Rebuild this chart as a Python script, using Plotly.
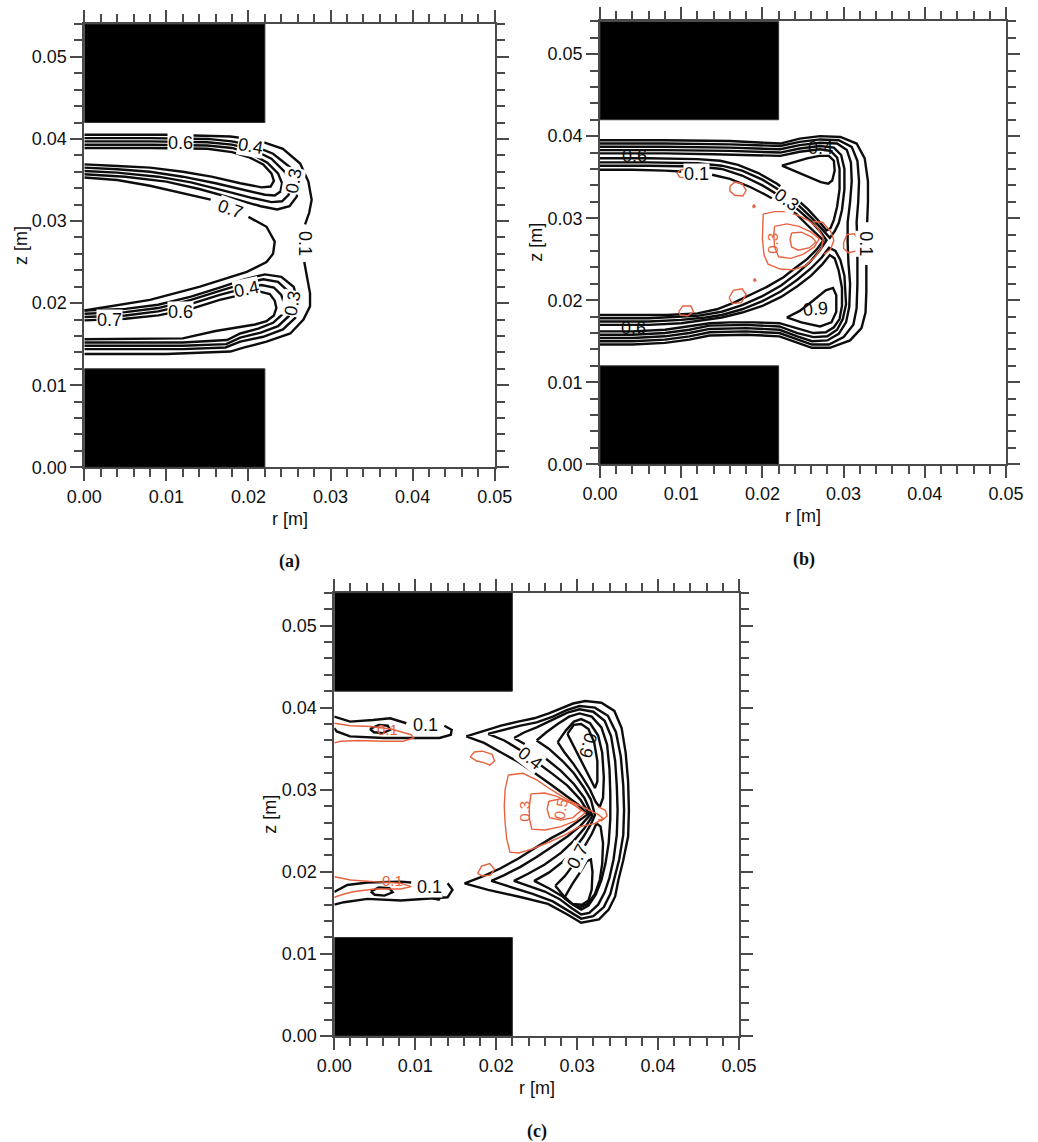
import plotly.graph_objects as go

# ---------------- data (r, z in millimetres; None = gap for an inline label) -------------
R_RANGE = [0.0, 0.05]
Z_RANGE = [0.0, 0.054]
BLOCK_R = [0.0, 0.022]
UPPER_BLOCK_Z = [0.042, 0.054]
LOWER_BLOCK_Z = [0.0, 0.012]

# ---- panel (a)
A_OUTER = [(0, 40.5), (10, 40.5), (17.8, 40.3), (20, 40.0), (21.8, 39.6), (24.2, 38.8), (26.3, 37.0), (27.3, 34.8),
           (27.7, 32.6), (27.4, 31.0), (26.9, 29.6), None, (26.8, 25.0), (27.2, 23.0), (27.5, 21.2), (27.5, 19.6),
           (26.7, 18.0), (25.1, 16.3), (22.2, 15.3), (19.5, 14.6), (17.8, 14.1), (10, 13.8), (0, 13.8)]
A_INNER = [(0, 35.3), (4, 35.0), (8, 34.3), (12, 33.4), (15.4, 32.6), None, (20, 30.5), (22.2, 29.3), (23.2, 27.5),
           (23, 26), (22.2, 25.0), (19.8, 23.8), (14.1, 22.0), (8, 20.4), (1.9, 19.4), (0, 19.1)]
A_U1 = [(0, 40.1), (8, 40.1), (15, 40.0), (18, 39.7), (20.5, 39.2), (23, 38.2), (25, 36.6), (26, 34.8), (25.9, 33.0),
        (25, 31.8), (23.5, 31.4), (21.5, 31.8), (18, 32.8), (14, 33.9), (10, 34.8), (5, 35.4), (0, 35.7)]
A_U2 = [(0, 39.7), (8, 39.7), (15, 39.6), (18, 39.3), (20.5, 38.7), (22.8, 37.6), (24.4, 36.0), (25.1, 34.6),
        (24.9, 33.2), (24.1, 32.4), (22.8, 32.3), (20.5, 32.8), (17, 33.7), (13, 34.7), (9, 35.4), (4, 35.9), (0, 36.1)]
A_U3 = [(0, 39.3), (8, 39.3), (15, 39.2), (18, 38.9), (20.3, 38.2), (22.3, 37.1), (23.6, 35.8), (24.1, 34.6),
        (23.9, 33.6), (23.2, 33.1), (22, 33.2), (19.5, 33.8), (16, 34.6), (12, 35.4), (8, 36.0), (4, 36.3), (0, 36.5)]
A_U4 = [(0, 38.9), (8, 38.9), (15, 38.8), (18, 38.4), (20, 37.8), (21.8, 36.9), (22.8, 35.8), (23.1, 34.9),
        (22.7, 34.2), (21.6, 34.1), (19, 34.6), (15.5, 35.4), (12, 36.0), (8, 36.5), (4, 36.7), (0, 36.9)]
A_L1 = [(0, 19.1), (5, 19.3), (9, 19.8), (13, 20.8), (16.5, 21.9), (19.5, 22.9), (22, 23.5), (24, 23.2), (25.5, 22.0),
        (26.1, 20.0), (25.7, 18.2), (24.2, 16.8), (21.8, 15.9), (19, 15.3), (17.2, 14.6), (12, 14.4), (5, 14.4), (0, 14.4)]
A_L2 = [(0, 18.7), (5, 18.9), (9, 19.4), (13, 20.4), (16.5, 21.5), (19.5, 22.4), (21.8, 22.9), (23.6, 22.6),
        (24.8, 21.5), (25.3, 19.9), (24.9, 18.4), (23.6, 17.2), (21.5, 16.4), (19, 15.8), (17.3, 15.0), (12, 14.8),
        (5, 14.8), (0, 14.8)]
A_L3 = [(0, 18.3), (5, 18.5), (9, 19.0), (13, 19.9), (16.5, 21.0), (19.5, 21.8), (21.6, 22.2), (23.1, 21.9),
        (24.0, 21.0), (24.4, 19.8), (24.1, 18.6), (23.0, 17.6), (21.2, 16.9), (19, 16.3), (17.4, 15.5), (12, 15.2),
        (5, 15.2), (0, 15.2)]
A_L4 = [(0, 17.9), (5, 18.1), (9, 18.5), (13, 19.3), (16.5, 20.4), (19.5, 21.1), (21.4, 21.4), (22.6, 21.1),
        (23.2, 20.3), (23.4, 19.4), (23.1, 18.5), (22.2, 17.8), (20.8, 17.4), (18.5, 17.0), (16, 16.6), (12, 15.7),
        (5, 15.6), (0, 15.6)]
A_BLACK = [A_OUTER, A_INNER, A_U1, A_U2, A_U3, A_U4, A_L1, A_L2, A_L3, A_L4]
A_RED = []
A_LABELS = [("0.6", 11.7, 39.5, 0, "k", True), ("0.4", 20.2, 39.1, 10, "k", True),
            ("0.3", 25.5, 34.9, -80, "k", True), ("0.1", 26.9, 27.3, 90, "k", True),
            ("0.7", 17.8, 31.5, 20, "k", True), ("0.4", 19.8, 21.7, -12, "k", True),
            ("0.6", 11.7, 18.9, 0, "k", True), ("0.7", 3.1, 17.9, 0, "k", True),
            ("0.3", 25.4, 20.0, -80, "k", True)]

# ---- panel (b)
B_E1 = [(0, 39.5), (8, 39.5), (16, 39.4), (22.2, 39.1), (24.6, 39.7), (27.1, 40.0), (29.6, 39.9), (31.6, 39.1),
        (32.6, 37.3), (33.0, 34.5), (33.0, 32.0), (32.9, 29.5), None, (32.8, 24.3), (32.8, 21.0), (32.7, 18.5),
        (32.2, 16.6), (30.8, 15.1), (28.3, 14.2), (26.1, 14.2), (24.3, 14.8), (22.1, 15.6), (18, 15.8), (13.5, 15.7),
        (11, 15.2), (8, 14.8), (4, 14.6), (0, 14.6)]
B_E2 = [(0, 39.1), (8, 39.1), (16, 39.0), (22.2, 38.8), (24.6, 39.3), (27.1, 39.6), (29.4, 39.5), (31.0, 38.7),
        (31.7, 37.0), (31.9, 34.5), (31.8, 32.0), (31.6, 29.5), (31.7, 27.0), (31.7, 24.5), (31.7, 22.0), (31.6, 19.0),
        (31.2, 17.0), (30.0, 15.5), (28.2, 14.6), (26.1, 14.6), (24.3, 15.2), (22.1, 16.0), (18, 16.2), (13.5, 16.1),
        (11, 15.6), (8, 15.2), (4, 15.0), (0, 15.0)]
B_E3 = [(0, 38.7), (8, 38.7), (16, 38.6), (22.2, 38.4), (24.6, 38.9), (27.1, 39.2), (29.2, 39.1), (30.4, 38.3),
        (30.9, 36.8), (31.0, 34.5), (30.8, 32.0), (30.5, 29.5), (30.5, 27.0), (30.6, 24.5), (30.8, 22.0), (30.7, 19.2),
        (30.3, 17.3), (29.4, 15.9), (28.0, 15.1), (26.1, 15.0), (24.3, 15.6), (22.1, 16.4), (18, 16.6), (13.5, 16.5),
        (11, 16.0), (8, 15.6), (4, 15.4), (0, 15.4)]
B_A1 = [(0, 38.3), (8, 38.3), (16, 38.2), (22.2, 38.0), (24.6, 38.5), (27.1, 38.8), (28.8, 38.6), (29.7, 37.7),
        (30.1, 36.0), (30.1, 33.5), (29.8, 31.0), (29.4, 29.4), (28.9, 28.4), (28.3, 27.6), (27.4, 28.6), (26.1, 30.0),
        (24.3, 31.7), (22.3, 33.3), (20, 34.7), (17.5, 35.8), (15, 36.4), (12, 36.7), (6, 36.8), (0, 36.8)]
B_A2 = [(0, 37.9), (8, 37.9), (14, 37.8), (18, 37.7), (22.2, 37.6), (24.6, 38.1), (27.1, 38.4), (28.4, 38.2),
        (29.2, 37.4), (29.5, 36.0), (29.5, 33.5), (29.2, 31.4), (28.8, 29.8), (28.4, 28.8), (27.9, 28.5), (27.0, 29.6),
        (25.6, 31.1), (23.8, 32.7), (21.8, 34.2), (19.5, 35.5), (17, 36.5), (14.8, 37.0), (12, 37.2), (6, 37.3),
        (0, 37.3)]
B_T1 = [(22.4, 36.4), (24, 36.9), (25.5, 37.3), (27, 37.6), (28.2, 37.6), (28.8, 37.0), (28.9, 35.8), (28.6, 34.6),
        (28.1, 34.2), (27.2, 34.4), (25.8, 35.0), (24.2, 35.7), (22.4, 36.4)]
B_V2 = [(0, 36.4), (6, 36.4), (12, 36.3), (15, 36.0), (17.5, 35.2), (20, 34.0), (22.3, 32.6), (24.3, 31.1), (26, 29.6),
        (27.2, 28.3), (27.9, 27.3), (27.0, 26.0), (25.8, 24.6), (24.3, 23.3), (22.3, 21.8), (20, 20.5), (17.5, 19.4),
        (15, 18.6), (12, 18.1), (6, 17.8), (0, 17.8)]
B_INNER = [(0, 35.9), (4, 35.9), (8, 35.8), (10.0, 35.7), None, (13.8, 35.3), (16, 34.8), (18.5, 33.8), (20.5, 32.8),
           (22.6, 31.6), (24.2, 30.5), (25.5, 29.2), (26.7, 28.1), (27.5, 27.3), (26.7, 26.2), (25.5, 25.0), (24, 23.9),
           (22.6, 22.8), (20.5, 21.6), (18.5, 20.6), (16.5, 19.7), (14.4, 18.9), (12, 18.4), (8.2, 18.2), (4, 18.2),
           (0, 18.2)]
B_B1 = [(0, 17.4), (6, 17.4), (10, 17.6), (13, 17.9), (15, 18.2), (17.5, 18.9), (20, 19.9), (22.3, 21.1), (24.3, 22.5),
        (26, 23.9), (27.3, 25.2), (28.2, 26.4), (29.0, 26.0), (29.6, 24.9), (30.1, 23.0), (30.3, 20.5), (30.3, 19.5),
        (29.9, 17.7), (29.2, 16.4), (28.0, 15.6), (26.3, 15.5), (24.3, 16.0), (22.1, 16.8), (18, 17.0), (13.5, 16.9),
        (11, 16.4), (8, 16.0), (4, 15.8), (0, 15.8)]
B_B2 = [(0, 17.0), (6, 17.0), (10, 17.2), (13, 17.6), (15, 17.9), (17.5, 18.5), (20, 19.3), (22.3, 20.4), (24.3, 21.7),
        (26, 23.0), (27.4, 24.4), (28.3, 25.5), (28.9, 25.1), (29.4, 23.6), (29.8, 21.5), (29.8, 19.3), (29.5, 17.7),
        (28.8, 16.7), (27.8, 16.1), (26.3, 16.0), (24.5, 16.5), (22.1, 17.2), (19, 17.3), (16, 17.3), (13.5, 17.2),
        (11, 16.8), (8, 16.4), (4, 16.2), (0, 16.2)]
B_T2 = [(23, 17.9), (24.6, 18.7), (26.3, 20.0), (27.8, 21.2), (28.7, 21.5), (29.1, 20.6), (29.1, 18.6), (28.5, 17.3),
        (27.1, 16.8), (24.8, 17.3), (23, 17.9)]
B_BLACK = [B_E1, B_E2, B_E3, B_A1, B_A2, B_T1, B_V2, B_INNER, B_B1, B_B2, B_T2]
B_R1 = [(20.1, 30.5), (21.5, 30.8), (23, 30.8), (24.5, 30.3), (25.7, 29.7), (26.8, 28.8), (27.5, 27.6), (27.3, 26.4),
        (26.5, 25.3), (25.3, 24.2), (23.8, 23.7), (22.2, 23.8), (20.7, 24.4), (20.2, 25.5), (20.0, 27.5), (20.1, 30.5)]
B_R2 = [(21.5, 29.0), (23, 29.3), (24.5, 29.0), (26, 28.3), (27.0, 27.5), (26.4, 26.5), (25, 25.6), (23.5, 25.1),
        (22, 25.3), (21.5, 26.5), (21.4, 28), (21.5, 29.0)]
B_R3 = [(23.6, 28.2), (24.8, 28.3), (26.1, 27.7), (26.6, 27.1), (25.8, 26.4), (24.4, 26.1), (23.6, 26.5), (23.4, 27.4),
        (23.6, 28.2)]
B_R4 = [(10.6, 36.0), (9.9, 35.9), (9.5, 35.5), (9.8, 35.0), (10.6, 34.9)]
B_R5 = [(16.0, 33.9), (16.6, 34.4), (17.5, 34.2), (18.0, 33.4), (17.6, 32.7), (16.6, 32.8), (16.0, 33.3), (16.0, 33.9)]
B_R6 = [(18.8, 31.5), (19.0, 31.6), (19.1, 31.4), (18.9, 31.3), (18.8, 31.5)]
B_R7 = [(30.0, 27.0), (30.4, 28.0), (31.3, 28.1), (31.9, 27.3), (31.6, 26.0), (30.6, 25.8), (30.0, 26.3), (30.0, 27.0)]
B_R8 = [(26.2, 29.6), (27.4, 29.5), (28.4, 28.4), (28.8, 27.3), (28.4, 26.2), (27.6, 25.6)]
B_R9 = [(15.9, 20.3), (16.4, 21.2), (17.5, 21.4), (18.0, 20.7), (17.4, 19.7), (16.3, 19.6), (15.9, 20.3)]
B_R10 = [(9.7, 18.6), (10.2, 19.3), (11.2, 19.3), (11.5, 18.6), (10.8, 18.1), (9.9, 18.2), (9.7, 18.6)]
B_R11 = [(18.9, 22.5), (19.1, 22.6), (19.2, 22.4), (19.0, 22.3), (18.9, 22.5)]
B_RED = [B_R1, B_R2, B_R3, B_R4, B_R5, B_R6, B_R7, B_R8, B_R9, B_R10, B_R11]
B_LABELS = [("0.6", 4.3, 37.6, 0, "k", False), ("0.1", 11.9, 35.4, 0, "k", True),
            ("0.3", 23.0, 32.2, 35, "k", True), ("0.4", 27.1, 38.6, 0, "k", False),
            ("0.1", 32.8, 26.9, 90, "k", True), ("0.6", 4.1, 16.6, 0, "k", False),
            ("0.9", 26.5, 18.9, -5, "k", False), ("0.3", 21.2, 26.9, -90, "r", False)]

# ---- panel (c)
C_1 = [(16.3, 36.5), (18.5, 37.2), (20.6, 37.8), (22.7, 38.3), (24.7, 38.7), (26.5, 39.3), (28, 39.9), (29.5, 40.5),
       (31, 40.8), (33, 40.6), (34.6, 39.6), (35.5, 37.5), (36.0, 34.5), (36.3, 31), (36.4, 27.5), (36.3, 24.3),
       (35.7, 21.4), (35.1, 19), (34.7, 17.0), (33.9, 15.4), (32.7, 14.2), (30.5, 13.8), (28.8, 14.8), (26.4, 16.1),
       (23.1, 16.9), (19, 17.8), (16.1, 18.6), (18.5, 19.5), (20.5, 20.4), (22.7, 21.6), (24.8, 22.9), (26.8, 24.1),
       (28.5, 25.0), (30.1, 26.1), (31.3, 27.0), (30.1, 28.2), (28.5, 29.4), (26.8, 30.6), (24.8, 32.0), (22.7, 33.4),
       (20.5, 34.6), (18.5, 35.7), (16.3, 36.5)]
C_2 = [(19.0, 36.8), (21, 37.3), (23, 37.8), (25, 38.2), (27, 38.9), (28.7, 39.7), (30.3, 40.2), (32.2, 40.0),
       (33.8, 39.0), (34.8, 37.0), (35.4, 34.0), (35.7, 30.5), (35.8, 27.5), (35.7, 24.5), (35.2, 21.5), (34.6, 19.2),
       (34.1, 17.3), (33.3, 15.7), (32.0, 14.6), (30.5, 14.3), (29.0, 15.2), (27.0, 16.4), (24.5, 17.3), (22, 18.1),
       (19.4, 18.9), (21, 19.6), (23, 20.6), (25, 21.8), (27, 23.1), (28.8, 24.3), (30.4, 25.6), (31.6, 26.9),
       (30.4, 28.8), (28.8, 30.5), (27, 31.9), (25, 33.4), (23, 34.8), (21, 36.0), (19.0, 36.8)]
C_3 = [(22.2, 36.3), (23.5, 37.0), (25, 37.6), (27, 38.5), (28.8, 39.4), (30.3, 39.8), (32, 39.5), (33.4, 38.4),
       (34.2, 36.5), (34.7, 33.5), (34.9, 30.5), (35.0, 27.5), (34.9, 24.5), (34.5, 21.5), (34.0, 19.3), (33.4, 17.5),
       (32.6, 16.0), (31.5, 15.0), (30.5, 14.8), (29.3, 15.6), (27.8, 16.7), (26, 17.6), (24, 18.3), (22.2, 18.9),
       (24, 19.8), (26, 20.9), (28, 22.3), (29.6, 23.8), (30.9, 25.3), (31.9, 26.8), (30.9, 29.0), (29.6, 30.7),
       (28, 32.3), (26, 33.9), (24, 35.3), (22.2, 36.3)]
C_4 = [(25.0, 36.0), (26.2, 37.0), (27.6, 38.0), (29.0, 38.9), (30.3, 39.3), (31.8, 38.9), (33.0, 37.6), (33.7, 35.5),
       (34.0, 32.5), (34.1, 29.5), (34.1, 26.5), (33.9, 23.5), (33.5, 21.0), (33.0, 19.0), (32.3, 17.2), (31.4, 15.9),
       (30.5, 15.4), (29.5, 16.0), (28.2, 17.0), (26.5, 18.0), (24.7, 18.9), (26.5, 19.9), (28.2, 21.2), (29.6, 22.7),
       (30.8, 24.3), (31.7, 25.8), (32.2, 26.9), (31.7, 28.8), (30.8, 30.3), (29.6, 32.0), (28.2, 33.5), (26.5, 35.0),
       (25.0, 36.0)]
C_5U = [(27.6, 35.8), (28.6, 37.2), (29.6, 38.3), (30.5, 38.6), (31.6, 38.1), (32.6, 36.6), (33.1, 34.5), (33.3, 31.5),
        (33.2, 29.0), (32.8, 27.9), (32.3, 28.5), (31.6, 30.0), (30.6, 31.6), (29.5, 33.2), (28.4, 34.6), (27.6, 35.8)]
C_6U = [(28.8, 36.8), (29.6, 37.9), (30.5, 38.0), (31.4, 37.4), (32.1, 35.8), (32.5, 33.5), (32.5, 31.0), (32.2, 30.2),
        (31.6, 31.4), (30.7, 33.2), (29.8, 35.0), (28.8, 36.8)]
C_5L = [(27.3, 18.3), (28.5, 19.5), (29.8, 21.2), (30.9, 23.0), (31.8, 24.6), (32.4, 25.9), (32.9, 25.5), (33.2, 23.5),
        (33.1, 21), (32.8, 19), (32.2, 17.3), (31.3, 16.1), (30.4, 15.7), (29.4, 16.1), (28.3, 17.1), (27.3, 18.3)]
C_6L = [(28.4, 16.8), (29.4, 18.5), (30.4, 20.0), (31.2, 21.3), (31.7, 21.5), (31.9, 20.0), (31.8, 17.8), (31.4, 16.5),
        (30.6, 16.0), (29.4, 16.1), (28.4, 16.8)]
C_LEFT_UP = [(0, 38.9), (1.95, 38.3), (4.8, 38.5), (6.9, 38.7), (8.9, 38.1), None, (13.6, 37.8), (14.5, 37.3),
             (14.4, 36.7), (13, 36.3), (10.2, 36.3), (6.1, 36.3), (1.95, 36.5), (0.3, 37.1), (0, 37.5)]
C_LENS_UP = [(4.4, 37.4), (5.5, 37.9), (6.6, 37.8), (6.9, 37.3), (6.0, 36.9), (4.9, 37.0), (4.4, 37.4)]
C_LEFT_LO = [(0, 17.55), (1.6, 18.4), (4.1, 18.7), (8.2, 18.8), (9.5, 18.7), None, (14.0, 18.6), (14.6, 17.8),
             (14.0, 16.9), (11.5, 16.7), (8.2, 16.5), (4.1, 16.7), (1.2, 16.3), (0, 16.0)]
C_LENS_LO1 = [(4.5, 17.6), (5.5, 18.1), (6.8, 18.0), (7.2, 17.5), (6.2, 17.1), (5.0, 17.2), (4.5, 17.6)]
C_LENS_LO2 = [(12.0, 16.8), (12.5, 17.2), (13.2, 17.0), (12.9, 16.6), (12.0, 16.8)]
C_BLACK = [C_1, C_2, C_3, C_4, C_5U, C_6U, C_5L, C_6L, C_LEFT_UP, C_LENS_UP, C_LEFT_LO, C_LENS_LO1, C_LENS_LO2]
C_R1 = [(21.5, 31.8), (23.3, 32.0), (25, 31.2), (26.8, 30.0), (28.8, 28.8), (30.8, 27.8), (32.6, 27.0), (33.2, 26.5),
        (32.3, 25.9), (30.3, 25.5), (28.5, 24.5), (26.5, 23.6), (24.5, 22.8), (22.8, 22.3), (21.7, 22.4), (21.3, 24),
        (21.1, 26), (21.0, 28), (21.1, 30), (21.5, 31.8)]
C_R2 = [(24.3, 29.5), (26, 29.6), (27.5, 29.2), (29.5, 28.2), (31, 27.2), (29.8, 26.2), (28, 25.5), (26, 25.1),
        (24.4, 25.2), (24.1, 26.5), (24.1, 28), (24.3, 29.5)]
C_R3 = [(26.5, 28.6), (28, 28.9), (29.5, 28.3), (30.5, 27.5), (29.5, 26.6), (28, 26.3), (26.6, 26.6), (26.3, 27.6),
        (26.5, 28.6)]
C_R4 = [(32.6, 27.9), (33.5, 27.5), (33.7, 26.8), (33.0, 26.2), (32.6, 26.4)]
C_R5 = [(16.8, 34.0), (17.3, 34.6), (18.3, 34.7), (19.5, 34.3), (19.8, 33.5), (19.2, 33.0), (18.5, 33.3), (17.6, 33.5),
        (16.8, 34.0)]
C_R6 = [(17.7, 19.8), (18.2, 20.7), (19.2, 21.0), (19.8, 20.3), (19.3, 19.6), (18.3, 19.5), (17.7, 19.8)]
C_R7 = [(0, 38.1), (2, 37.8), (4.5, 37.7), (7, 37.4), (9.5, 36.7), (9.8, 36.3), (8.5, 35.9), (6, 35.9), (3, 36.0),
        (0.8, 35.9), (0, 35.7)]
C_R8 = [(0, 19.4), (2, 19.0), (4.9, 18.8), (8.2, 18.6), (9.5, 18.2), (8.2, 17.9), (5, 17.9), (2.5, 17.6), (1.2, 17.3),
        (0, 16.9)]
C_RED = [C_R1, C_R2, C_R3, C_R4, C_R5, C_R6, C_R7, C_R8]
C_LABELS = [("0.1", 11.3, 37.9, 0, "k", True), ("0.1", 11.7, 18.2, 0, "k", True),
            ("0.1", 6.6, 37.3, 0, "r", False), ("0.1", 7.2, 19.0, 0, "r", False),
            ("0.4", 24.2, 33.9, 38, "k", True), ("0.9", 31.3, 35.4, 105, "k", False),
            ("0.7", 30.1, 21.9, -62, "k", True), ("0.3", 23.4, 27.4, -90, "r", False),
            ("0.5", 28.0, 27.7, -80, "r", False)]

# ---------------- layout geometry -----------------------------------------------------------
W, H = 1038, 1142
PANELS = [  # (x-left px, x-right px, y-top px, y-bottom px, caption, caption x px, caption y px)
    (84.3, 494.7, 24.0, 467.3, "(a)", 289, 561),
    (600.0, 1006.0, 21.3, 464.3, "(b)", 804, 560),
    (334.3, 739.0, 592.7, 1036.0, "(c)", 537, 1131),
]
DATA = [(A_BLACK, A_RED, A_LABELS), (B_BLACK, B_RED, B_LABELS), (C_BLACK, C_RED, C_LABELS)]

BLACK = "#0d0d0d"
RED = "#E8623F"
AXC = "#4a4a4a"
TXT = "#111111"
SANS = "Liberation Sans, Arial, Helvetica, sans-serif"


def to_xy(lines):
    xs, ys = [], []
    for line in lines:
        for p in line:
            if p is None:
                xs.append(None)
                ys.append(None)
            else:
                xs.append(p[0] / 1000.0)
                ys.append(p[1] / 1000.0)
        xs.append(None)
        ys.append(None)
    return xs, ys


fig = go.Figure()
layout = dict(width=W, height=H, margin=dict(l=0, r=0, t=0, b=0, autoexpand=False), paper_bgcolor="white",
              plot_bgcolor="white", showlegend=False)
annotations = []
shapes = []

for i, ((xl, xr, yt, yb, cap, cx, cy), (blk, red, labels)) in enumerate(zip(PANELS, DATA)):
    sfx = "" if i == 0 else str(i + 1)
    xa, ya = "x" + sfx, "y" + sfx
    common = dict(showline=True, linecolor=AXC, linewidth=1.8, mirror="allticks", ticks="outside",
                  ticklen=12, tickwidth=1.6, tickcolor=AXC, showgrid=False, zeroline=False,
                  tickmode="linear", tick0=0, dtick=0.01, tickformat=".2f", automargin=False,
                  tickfont=dict(family=SANS, size=18, color=TXT),
                  minor=dict(tick0=0, dtick=0.002, ticks="outside", ticklen=8, tickwidth=1.6,
                             tickcolor=AXC, showgrid=False),
                  fixedrange=True)
    layout["xaxis" + sfx] = dict(common, domain=[xl / W, xr / W], range=R_RANGE, anchor=ya)
    layout["yaxis" + sfx] = dict(common, domain=[1 - yb / H, 1 - yt / H], range=Z_RANGE, anchor=xa)

    bx, by = to_xy(blk)
    fig.add_trace(go.Scatter(x=bx, y=by, mode="lines", line=dict(color=BLACK, width=2.4),
                             xaxis=xa, yaxis=ya, hoverinfo="skip", connectgaps=False))
    if red:
        rx, ry = to_xy(red)
        fig.add_trace(go.Scatter(x=rx, y=ry, mode="lines", line=dict(color=RED, width=1.4),
                                 xaxis=xa, yaxis=ya, hoverinfo="skip", connectgaps=False))

    for z0, z1 in (UPPER_BLOCK_Z, LOWER_BLOCK_Z):
        shapes.append(dict(type="rect", xref=xa, yref=ya, x0=BLOCK_R[0], x1=BLOCK_R[1], y0=z0, y1=z1,
                           fillcolor="black", line=dict(color="#333333", width=1), layer="above"))

    for txt, r, z, ang, col, bg in labels:
        annotations.append(dict(x=r / 1000.0, y=z / 1000.0, xref=xa, yref=ya, text=txt, showarrow=False,
                                textangle=ang,
                                font=dict(family=SANS, size=18 if col == "k" else 15,
                                          color=BLACK if col == "k" else RED),
                                bgcolor="white" if bg else "rgba(0,0,0,0)", borderpad=0))

    # axis titles
    annotations.append(dict(x=((xl + xr) / 2) / W, y=1 - (yb + 52) / H, xref="paper", yref="paper",
                            text="r [m]", showarrow=False, font=dict(family=SANS, size=18, color=TXT),
                            xanchor="center", yanchor="middle"))
    annotations.append(dict(x=(xl - 64) / W, y=1 - ((yt + yb) / 2) / H, xref="paper", yref="paper",
                            text="z [m]", showarrow=False, textangle=-90,
                            font=dict(family=SANS, size=18, color=TXT),
                            xanchor="center", yanchor="middle"))
    # caption
    annotations.append(dict(x=cx / W, y=1 - cy / H, xref="paper", yref="paper", text="<b>" + cap + "</b>",
                            showarrow=False, font=dict(family="Liberation Serif, Times New Roman, serif",
                                                       size=18, color=TXT),
                            xanchor="center", yanchor="middle"))

layout["annotations"] = annotations
layout["shapes"] = shapes
fig.update_layout(**layout)
fig.write_html("out.html")
